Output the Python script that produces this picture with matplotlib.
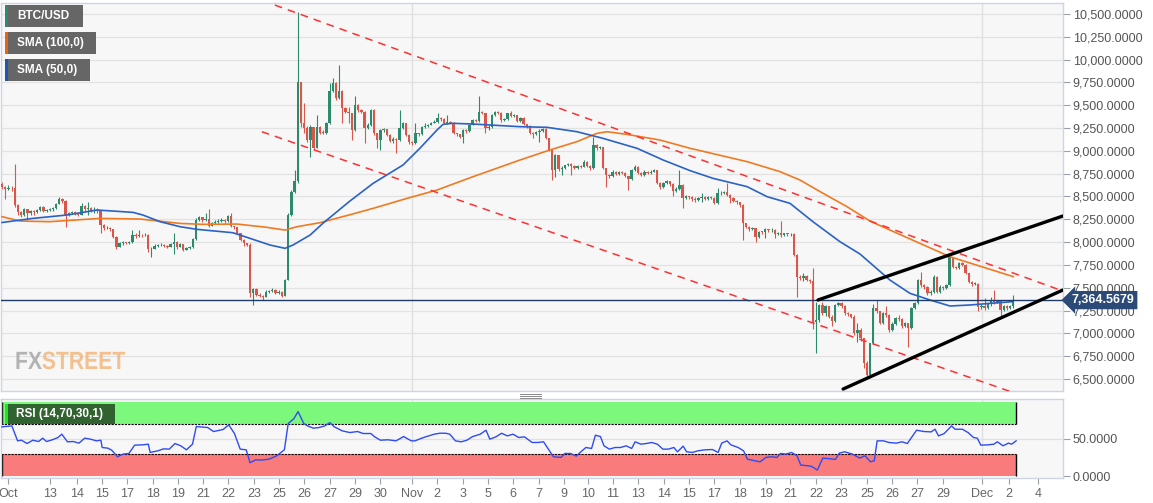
import matplotlib
matplotlib.use("Agg")
import matplotlib.pyplot as plt
import matplotlib.transforms as mtransforms
from matplotlib.patches import Rectangle, PathPatch
from matplotlib.textpath import TextPath
from matplotlib.font_manager import FontProperties
from matplotlib.ticker import FuncFormatter
import numpy as np

# ---------------- data (4h candles, index 0 .. 318) ----------------
first_open = 8640
close = [
    8600, 8585, 8595, 8590, 8410, 8330, 8300, 8360, 8320, 8340,
    8330, 8355, 8385, 8345, 8350, 8360, 8370, 8420, 8470, 8455,
    8300, 8320, 8330, 8320, 8300, 8400, 8360, 8370, 8340, 8350,
    8345, 8190, 8150, 8160, 8140, 8060, 7950, 7985, 8000, 7990,
    8000, 8080, 8070, 8080, 8075, 8080, 7920, 7930, 7960, 7965,
    7970, 7955, 7950, 7980, 8005, 7945, 7975, 7915, 7935, 7945,
    8030, 8240, 8270, 8240, 8255, 8180, 8210, 8225, 8235, 8240,
    8230, 8290, 8175, 8165, 8095, 8025, 7985, 7970, 7440, 7490,
    7425, 7410, 7400, 7450, 7460, 7480, 7440, 7455, 7410, 7585,
    8300, 8550, 8670, 9760, 9300, 9250, 9120, 9260, 9030, 9260,
    9200, 9195, 9300, 9660, 9740, 9580, 9660, 9470, 9430, 9415,
    9230, 9500, 9450, 9430, 9250, 9280, 9448, 9192, 9120, 9229,
    9235, 9170, 9110, 9130, 9120, 9247, 9300, 9174, 9100, 9083,
    9192, 9180, 9265, 9270, 9284, 9302, 9320, 9357, 9350, 9302,
    9320, 9310, 9192, 9180, 9156, 9229, 9220, 9284, 9338, 9330,
    9430, 9410, 9247, 9260, 9393, 9430, 9420, 9338, 9350, 9411,
    9380, 9390, 9330, 9357, 9290, 9270, 9200, 9180, 9210, 9220,
    9245, 9140, 9010, 8790, 8955, 8800, 8810, 8840, 8860, 8830,
    8815, 8830, 8825, 8880, 8830, 8810, 9064, 9030, 9040, 8810,
    8736, 8725, 8772, 8750, 8765, 8760, 8720, 8690, 8790, 8825,
    8760, 8740, 8770, 8760, 8770, 8785, 8650, 8600, 8650, 8665,
    8640, 8560, 8585, 8630, 8480, 8500, 8490, 8470, 8465, 8480,
    8490, 8475, 8490, 8485, 8430, 8535, 8540, 8550, 8520, 8480,
    8450, 8440, 8410, 8206, 8169, 8140, 8150, 8060, 8115, 8110,
    8140, 8130, 8135, 8085, 8100, 8080, 8095, 8085, 8090, 7860,
    7620, 7610, 7630, 7590, 7570, 7128, 7150, 7311, 7220, 7300,
    7183, 7140, 7311, 7330, 7300, 7220, 7210, 7183, 7000, 7040,
    6950, 6672, 6540, 6891, 7275, 7240, 7110, 7220, 7200, 7040,
    7100, 7165, 7160, 7080, 7110, 7060, 7275, 7329, 7585, 7530,
    7512, 7440, 7450, 7622, 7450, 7512, 7500, 7530, 7841, 7731,
    7720, 7775, 7750, 7660, 7560, 7540, 7545, 7293, 7300, 7280,
    7320, 7366, 7340, 7355, 7256, 7300, 7280, 7300, 7364.57,
]
high = [
    8660, 8610, 8630, 8620, 8856, 8420, 8340, 8375, 8365, 8355,
    8350, 8365, 8395, 8395, 8360, 8370, 8380, 8430, 8490, 8480,
    8460, 8335, 8345, 8340, 8330, 8430, 8405, 8435, 8380, 8385,
    8370, 8350, 8200, 8175, 8165, 8145, 8065, 8000, 8010, 8005,
    8010, 8130, 8095, 8130, 8090, 8095, 8085, 7945, 7975, 7980,
    7985, 7975, 7965, 7990, 8100, 8010, 7990, 7975, 7950, 7960,
    8045, 8260, 8290, 8280, 8315, 8360, 8225, 8240, 8250, 8260,
    8250, 8300, 8315, 8180, 8170, 8100, 8030, 7995, 7985, 7500,
    7500, 7445, 7420, 7470, 7480, 7495, 7490, 7470, 7460, 7600,
    8320, 8570, 8790, 10518, 9760, 9520, 9270, 9280, 9260, 9393,
    9270, 9230, 9320, 9740, 9800, 9750, 9941, 9670, 9480, 9480,
    9420, 9601, 9510, 9460, 9440, 9300, 9460, 9460, 9200, 9240,
    9250, 9240, 9180, 9150, 9140, 9448, 9320, 9300, 9180, 9110,
    9300, 9200, 9275, 9310, 9295, 9315, 9340, 9411, 9370, 9360,
    9393, 9330, 9320, 9200, 9190, 9240, 9240, 9295, 9350, 9345,
    9601, 9440, 9420, 9280, 9400, 9440, 9440, 9430, 9365, 9420,
    9440, 9400, 9395, 9370, 9370, 9295, 9280, 9210, 9220, 9235,
    9255, 9250, 9145, 9015, 8970, 8960, 8830, 8850, 8870, 8870,
    8840, 8840, 8840, 8900, 8885, 8840, 9157, 9070, 9050, 9045,
    8815, 8745, 8785, 8775, 8780, 8775, 8765, 8725, 8800, 8840,
    8830, 8765, 8785, 8775, 8785, 8800, 8790, 8655, 8660, 8680,
    8670, 8645, 8600, 8790, 8640, 8520, 8510, 8500, 8490, 8495,
    8535, 8500, 8500, 8500, 8490, 8590, 8555, 8565, 8644, 8530,
    8490, 8460, 8445, 8415, 8215, 8175, 8165, 8155, 8125, 8125,
    8150, 8145, 8150, 8140, 8110, 8235, 8105, 8100, 8100, 8095,
    7865, 7640, 7660, 7635, 7600, 7713, 7347, 7320, 7347, 7310,
    7300, 7200, 7320, 7345, 7340, 7310, 7230, 7215, 7200, 7110,
    7060, 6950, 6700, 6900, 7320, 7366, 7250, 7230, 7300, 7210,
    7120, 7175, 7201, 7165, 7120, 7115, 7290, 7340, 7600, 7670,
    7545, 7520, 7470, 7640, 7630, 7525, 7520, 7545, 7860, 7840,
    7740, 7785, 7780, 7755, 7665, 7570, 7560, 7550, 7320, 7384,
    7330, 7400, 7470, 7370, 7360, 7310, 7310, 7310, 7420,
]
low = [
    8580, 8470, 8570, 8560, 8390, 8300, 8280, 8290, 8240, 8300,
    8300, 8320, 8340, 8330, 8330, 8340, 8345, 8360, 8415, 8430,
    8170, 8290, 8310, 8300, 8290, 8295, 8340, 8300, 8330, 8320,
    8320, 8100, 8130, 8140, 8120, 8050, 7920, 7945, 7970, 7975,
    7980, 7995, 8050, 8060, 8060, 8065, 7895, 7840, 7925, 7950,
    7955, 7945, 7940, 7945, 7870, 7930, 7950, 7900, 7910, 7925,
    7940, 8025, 8230, 8225, 8235, 8170, 8175, 8200, 8215, 8225,
    8215, 8225, 8165, 8140, 8085, 8010, 7960, 7955, 7400, 7310,
    7410, 7395, 7365, 7395, 7440, 7450, 7430, 7435, 7395, 7405,
    7580, 8290, 8540, 8650, 9260, 9200, 9100, 8936, 9010, 9030,
    9180, 9180, 9190, 9290, 9650, 9560, 9570, 9300, 9420, 9300,
    9119, 9220, 9430, 9415, 9083, 9240, 9270, 9174, 9028, 9010,
    9210, 9160, 9100, 9090, 8973, 9110, 9240, 9160, 9080, 9060,
    9070, 9160, 9170, 9250, 9260, 9280, 9300, 9310, 9330, 9290,
    9290, 9300, 9180, 9160, 9140, 9083, 9200, 9210, 9280, 9315,
    9320, 9400, 9192, 9230, 9250, 9380, 9400, 9320, 9330, 9340,
    9370, 9370, 9320, 9320, 9280, 9255, 9190, 9137, 9170, 9101,
    9210, 9130, 9000, 8680, 8717, 8780, 8736, 8800, 8830, 8736,
    8800, 8800, 8810, 8820, 8820, 8790, 8800, 9010, 9020, 8800,
    8608, 8700, 8715, 8735, 8740, 8745, 8710, 8571, 8680, 8780,
    8750, 8720, 8730, 8745, 8750, 8765, 8640, 8580, 8590, 8640,
    8620, 8500, 8550, 8570, 8370, 8470, 8470, 8450, 8440, 8450,
    8440, 8460, 8465, 8470, 8415, 8420, 8520, 8530, 8510, 8430,
    8435, 8420, 8390, 8023, 8150, 8120, 8130, 7998, 8050, 8090,
    8042, 8110, 8115, 8042, 8075, 8060, 8070, 8070, 8070, 7850,
    7402, 7590, 7570, 7570, 7550, 7050, 6781, 7130, 7200, 7190,
    7170, 7080, 7130, 7300, 7280, 7200, 7190, 7170, 6980, 6909,
    6920, 6617, 6520, 6540, 6880, 7220, 7100, 7100, 7180, 7020,
    7030, 7090, 7140, 7060, 7070, 6855, 7050, 7270, 7320, 7510,
    7490, 7420, 7420, 7440, 7440, 7440, 7480, 7490, 7520, 7720,
    7700, 7710, 7735, 7650, 7550, 7520, 7530, 7240, 7270, 7260,
    7270, 7300, 7320, 7330, 7165, 7240, 7260, 7270, 7280,
]

# SMA curves (candle index, price)
sma50_idx = [0, 9.7, 20.4, 29.9, 41.2, 44.3, 49.7, 56.0, 61.3, 72.6, 78.0, 84.3, 89.0,
             91.5, 96.9, 100.9, 109.4, 116.7, 126.1, 131.4, 136.8, 138.7, 141.8, 148.1,
             162.9, 171.4, 180.8, 189.0, 199.7, 207.9, 216.4, 223.6, 234.3, 240.6, 247.8,
             255.0, 263.5, 269.8, 279.2, 285.5, 291.8, 298.1, 304.4, 310.7, 318.0]
sma50_val = [8215, 8260, 8297, 8352, 8326, 8297, 8224, 8169, 8140, 8103, 8041, 7968, 7932,
             7968, 8078, 8206, 8450, 8644, 8845, 9028, 9229, 9291, 9302, 9294,
             9265, 9258, 9210, 9137, 9028, 8900, 8783, 8699, 8608, 8498, 8425,
             8224, 8005, 7870, 7585, 7439, 7366, 7300, 7311, 7329, 7348]
sma100_idx = [0, 5.7, 15.1, 30.8, 43.4, 56.0, 63.2, 73.9, 83.3, 89.0, 92.8, 100.0, 109.4,
              116.7, 127.4, 136.8, 148.1, 162.9, 172.3, 180.8, 187.1, 190.3, 196.5, 206.9,
              216.4, 234.3, 244.7, 250.9, 258.2, 265.7, 273.0, 279.2, 298.1, 318.0]
sma100_val = [8279, 8231, 8224, 8260, 8253, 8205, 8195, 8198, 8162, 8132, 8169, 8213, 8300,
              8370, 8480, 8571, 8717, 8900, 9010, 9101, 9192, 9210, 9181, 9119,
              9028, 8882, 8772, 8681, 8535, 8389, 8230, 8133, 7840, 7622]

# RSI (14) (candle index, value)
rsi_idx = [0, 3.1, 4.9, 6.1, 7.9, 9.7, 11.5, 12.8, 14.0, 15.8, 17.6, 18.8, 20.6, 22.4, 24.2,
           26.0, 27.8, 29.7, 31.1, 31.5, 33.3, 34.5, 36.3, 38.1, 39.9, 41.7, 44.2, 46.0,
           46.6, 49.0, 50.8, 52.6, 54.4, 56.2, 58.0, 59.9, 61.1, 64.7, 66.5, 69.5, 71.3,
           73.1, 74.9, 76.8, 78.0, 79.8, 81.6, 84.0, 86.4, 88.8, 90.0, 91.8, 93.1, 94.9,
           96.1, 97.9, 99.7, 101.5, 103.1, 104.5, 107.0, 109.4, 111.8, 113.6, 116.0, 117.2,
           119.0, 121.4, 123.9, 126.3, 128.7, 129.9, 131.7, 133.5, 135.9, 137.7, 139.5,
           140.8, 142.6, 144.4, 146.2, 148.0, 150.4, 152.2, 153.4, 155.3, 157.1, 158.9,
           160.7, 162.5, 164.3, 166.7, 168.5, 170.3, 173.4, 175.8, 177.0, 178.8, 180.6,
           181.8, 183.6, 185.4, 186.6, 188.2, 189.3, 191.0, 192.8, 194.5, 196.3, 198.0,
           199.1, 200.9, 202.6, 204.3, 206.1, 207.8, 209.5, 211.3, 212.4, 214.2, 215.3,
           217.1, 218.8, 221.1, 223.4, 225.2, 226.3, 228.0, 229.2, 231.5, 233.2, 234.4,
           236.7, 238.4, 240.2, 241.9, 243.7, 244.8, 246.5, 248.3, 250.0, 251.2, 253.5,
           254.6, 256.4, 258.1, 260.4, 262.1, 263.3, 265.0, 267.4, 269.7, 271.4, 273.1,
           274.3, 275.2, 277.2, 278.9, 281.2, 283.0, 284.7, 287.6, 289.9, 292.2, 293.4,
           294.5, 296.3, 298.6, 299.7, 302.0, 303.8, 305.5, 306.7, 307.8, 310.1, 311.9,
           313.0, 314.8, 316.5, 317.5, 318.9]
rsi_val = [66.4, 67.7, 47.5, 48.4, 43.9, 48.4, 46.6, 51.1, 46.6, 48.9, 52.0, 56.5, 46.2, 46.6,
           44.4, 51.1, 49.8, 47.5, 48.4, 38.5, 37.6, 34.9, 26.0, 29.6, 30.4, 41.7, 42.1,
           43.0, 31.8, 34.0, 36.7, 36.3, 43.9, 40.8, 35.4, 43.0, 66.8, 65.5, 60.1, 62.8,
           69.1, 57.4, 36.3, 35.4, 17.9, 21.9, 21.5, 22.8, 27.3, 35.4, 70.9, 77.6, 87.0,
           70.9, 67.7, 64.6, 65.5, 67.7, 72.2, 66.4, 61.0, 58.7, 60.1, 57.4, 57.4, 52.9,
           48.4, 48.9, 47.5, 53.3, 47.5, 47.5, 50.7, 53.3, 56.5, 57.8, 57.8, 56.5, 47.5,
           46.2, 48.4, 53.3, 56.5, 61.9, 49.8, 52.9, 57.8, 54.2, 56.5, 52.0, 52.9, 45.3,
           45.3, 46.2, 26.0, 25.1, 30.4, 30.4, 26.9, 31.8, 38.5, 37.2, 55.1, 53.3, 40.8,
           36.3, 38.5, 38.5, 40.8, 37.2, 46.2, 43.0, 43.9, 45.3, 43.0, 36.3, 36.3, 38.5,
           32.7, 40.3, 32.7, 31.8, 34.0, 35.4, 35.8, 31.8, 44.4, 47.5, 42.1, 38.5, 34.0,
           22.8, 20.6, 19.2, 25.1, 26.0, 25.1, 30.4, 29.6, 31.8, 27.3, 14.7, 13.8, 12.9,
           8.0, 24.2, 23.3, 22.4, 30.9, 32.7, 29.6, 24.2, 27.3, 19.2, 20.6, 47.5, 47.5,
           45.3, 44.4, 46.2, 43.9, 61.9, 60.1, 59.6, 63.2, 54.2, 57.4, 67.7, 63.2, 63.2,
           58.7, 52.0, 51.1, 41.7, 42.1, 43.0, 46.2, 40.8, 44.4, 43.0, 47.5]

# Drawn trend lines (candle index, price)
red_upper = ([85.8, 333.6], [10598, 7464])
red_lower = ([81.7, 317.0], [9210, 6364])
blk_upper = ([256.6, 333.6], [7366, 8286])
blk_lower = ([264.5, 333.6], [6390, 7475])
last_price = 7364.5679

tick_labels = ["Oct", "13", "14", "15", "17", "18", "19", "21", "22", "23", "25", "26", "27",
               "29", "30", "Nov", "2", "3", "5", "6", "7", "9", "10", "11", "13", "14", "15",
               "17", "18", "19", "21", "22", "23", "25", "26", "27", "29", "Dec", "2", "4"]
tick_pos = [1.9, 15.1, 23.6, 31.4, 39.3, 47.5, 55.3, 63.2, 71.1, 79.2, 87.1, 95.0, 103.1,
            111.0, 118.9, 128.9, 136.8, 145.0, 152.8, 160.7, 168.9, 176.7, 184.3, 192.1,
            200.0, 208.2, 216.0, 223.9, 232.1, 240.3, 247.8, 256.0, 263.8, 272.0, 279.9,
            287.7, 295.9, 308.2, 316.7, 325.8]
month_lines = [128.9, 308.2]

# ---------------- styling ----------------
FONT = "Liberation Sans"
plt.rcParams["font.family"] = [FONT, "DejaVu Sans"]
GREEN = "#2e8a6c"
RED = "#d9574a"
BG = "#f7f7f7"
SPINE = "#cfd4e4"
W, H = 1153, 503

fig = plt.figure(figsize=(W / 100, H / 100), dpi=100)
fig.patch.set_facecolor("white")


def fx(x):
    return x / W


def fy(y):
    return 1 - y / H


ax = fig.add_axes([fx(1), fy(391), fx(1063) - fx(1), fy(3) - fy(391)])
ax2 = fig.add_axes([fx(1), fy(478), fx(1063) - fx(1), fy(399) - fy(478)])

n = min(len(close), len(high), len(low))
c = np.array(close[:n], dtype=float)
o = np.array([first_open] + close[:n - 1], dtype=float)
hi = np.array(high[:n], dtype=float)
lo = np.array(low[:n], dtype=float)
idx = np.arange(n)
up = c >= o
cols = np.where(up, GREEN, RED)
body_lo = np.minimum(o, c)
body_hi = np.maximum(o, c)
body_h = np.maximum(body_hi - body_lo, 8)

XMIN, XMAX = (1 - 2) / 3.18, (1063 - 2) / 3.18
for a in (ax, ax2):
    a.set_facecolor(BG)
    a.set_xlim(XMIN, XMAX)
    for s in a.spines.values():
        s.set_color(SPINE)
        s.set_linewidth(1)

# main panel
ax.set_ylim(6368.5, 10620.5)
ax.set_yticks(np.arange(6500, 10501, 250))
ax.grid(axis="y", color="#e2e2e2", lw=0.9)
ax.set_axisbelow(True)
for m in month_lines:
    ax.axvline(m, color="#e0e0e0", lw=1, zorder=0)
    ax2.axvline(m, color="#e0e0e0", lw=1, zorder=0)
ax.set_xticks([])

ax.vlines(idx, np.minimum(lo, body_lo), np.maximum(hi, body_hi), colors=cols, lw=0.8, zorder=2)
ax.bar(idx, body_h, bottom=body_lo, width=0.74, color=cols, linewidth=0, zorder=3)

ax.plot(sma100_idx, sma100_val, color="#f07a22", lw=1.2, zorder=4)
ax.plot(sma50_idx, sma50_val, color="#2a62c6", lw=1.2, zorder=4)

ax.plot(*red_upper, color="#ff3030", lw=1.1, ls=(0, (5, 4)), zorder=5)
ax.plot(*red_lower, color="#ff3030", lw=1.1, ls=(0, (5, 4)), zorder=5)
ax.plot(*blk_upper, color="black", lw=2.4, zorder=6, solid_capstyle="round")
ax.plot(*blk_lower, color="black", lw=2.4, zorder=6, solid_capstyle="round")

ax.axhline(last_price, color="#1f3b69", lw=1, zorder=5)

ax.yaxis.tick_right()
ax.yaxis.set_major_formatter(FuncFormatter(lambda v, p: f"{v:,.4f}"))
ax.tick_params(axis="y", length=5, color="#9aa0aa", labelsize=9, labelcolor="#555555", pad=2)

blend = mtransforms.blended_transform_factory(ax.transAxes, ax.transData)
ax.text(1.008, last_price, f"{last_price:,.4f}", transform=blend, ha="left", va="center",
        color="white", fontsize=9, fontweight="bold", zorder=10, clip_on=False,
        bbox=dict(boxstyle="larrow,pad=0.25", fc="#2c4a78", ec="none"))

# RSI panel
ax2.set_ylim(-2.7, 104.05)
x_end = n - 0.1
ax2.fill_between([XMIN, x_end], 70, 100, color="#7cf97c", lw=0, zorder=1)
ax2.fill_between([XMIN, x_end], 0, 30, color="#f97b7b", lw=0, zorder=1)
ax2.hlines([70, 30], XMIN, x_end, colors="black", lw=0.8, linestyles=(0, (2, 1)), zorder=2)
ax2.vlines([x_end], 70, 100, colors="black", lw=1, zorder=2)
ax2.vlines([x_end], 0, 30, colors="black", lw=1, zorder=2)
ax2.vlines([XMIN + 0.4], 0, 30, colors="black", lw=1, zorder=2)
ax2.vlines([XMIN + 0.4], 70, 100, colors="black", lw=1, zorder=2)
ax2.axhline(50, color="#e0e0e0", lw=0.9, zorder=0)
ax2.plot(rsi_idx, rsi_val, color="#2f4cf0", lw=1.0, zorder=3)
ax2.yaxis.tick_right()
ax2.set_yticks([0, 50])
ax2.set_yticklabels(["0.0000", "50.0000"])
ax2.tick_params(axis="y", length=5, color="#9aa0aa", labelsize=9, labelcolor="#555555", pad=2)
ax2.set_xticks(tick_pos)
ax2.set_xticklabels(tick_labels)
ax2.tick_params(axis="x", length=4, color="#9aa0aa", labelsize=9, labelcolor="#666666", pad=3)

# ---------------- overlays (legend boxes, watermark) ----------------
def fig_rect(x0, y0, x1, y1, color, z=20, alpha=1.0):
    r = Rectangle((fx(x0), fy(y1)), fx(x1) - fx(x0), fy(y0) - fy(y1),
                  transform=fig.transFigure, facecolor=color, edgecolor="none",
                  zorder=z, alpha=alpha)
    fig.add_artist(r)


legend_items = [("BTC/USD", "#2f8a6d", 5, 83), ("SMA (100,0)", "#e8650f", 32, 96),
                ("SMA (50,0)", "#1f56b0", 59, 90)]
for label, col, ytop, xr in legend_items:
    fig_rect(5, ytop, xr, ytop + 22, "#616161", alpha=0.97)
    fig_rect(5, ytop, 8, ytop + 22, col, z=21)
    fig.text(fx(17), fy(ytop + 11), label, color="white", fontsize=8.5, fontweight="bold",
             va="center", ha="left", zorder=22)

fig_rect(5, 404, 115, 424, "#2d5b2d", alpha=0.95)
fig_rect(5, 404, 8, 424, "#22e622", z=21)
fig.text(fx(16), fy(414), "RSI (14,70,30,1)", color="white", fontsize=8.5, fontweight="bold",
         va="center", ha="left", zorder=22)

# divider handle between panels
for yy in (393.5, 395.5, 397.5):
    fig.add_artist(plt.Line2D([fx(520), fx(541)], [fy(yy), fy(yy)], transform=fig.transFigure,
                              color="#8a8a8a", lw=0.7))

# FXSTREET watermark (condensed bold)
fp = FontProperties(family=FONT, weight="bold")
tp_fx = TextPath((0, 0), "FX", size=32, prop=fp)
tp_st = TextPath((0, 0), "STREET", size=32, prop=fp)
w_fx = tp_fx.get_extents().x1
w_st = tp_st.get_extents().x1
sx = 110.0 / (w_fx + w_st)
base_y = H - 369
t1 = mtransforms.Affine2D().scale(sx, 0.78).translate(15, base_y)
t2 = mtransforms.Affine2D().scale(sx, 0.78).translate(15 + w_fx * sx, base_y)
fig.add_artist(PathPatch(tp_fx, transform=t1, facecolor="#9d9d9d", edgecolor="none", alpha=0.75))
fig.add_artist(PathPatch(tp_st, transform=t2, facecolor="#f2b06e", edgecolor="none", alpha=0.75))

fig.savefig("out.png", dpi=100, facecolor="white")
